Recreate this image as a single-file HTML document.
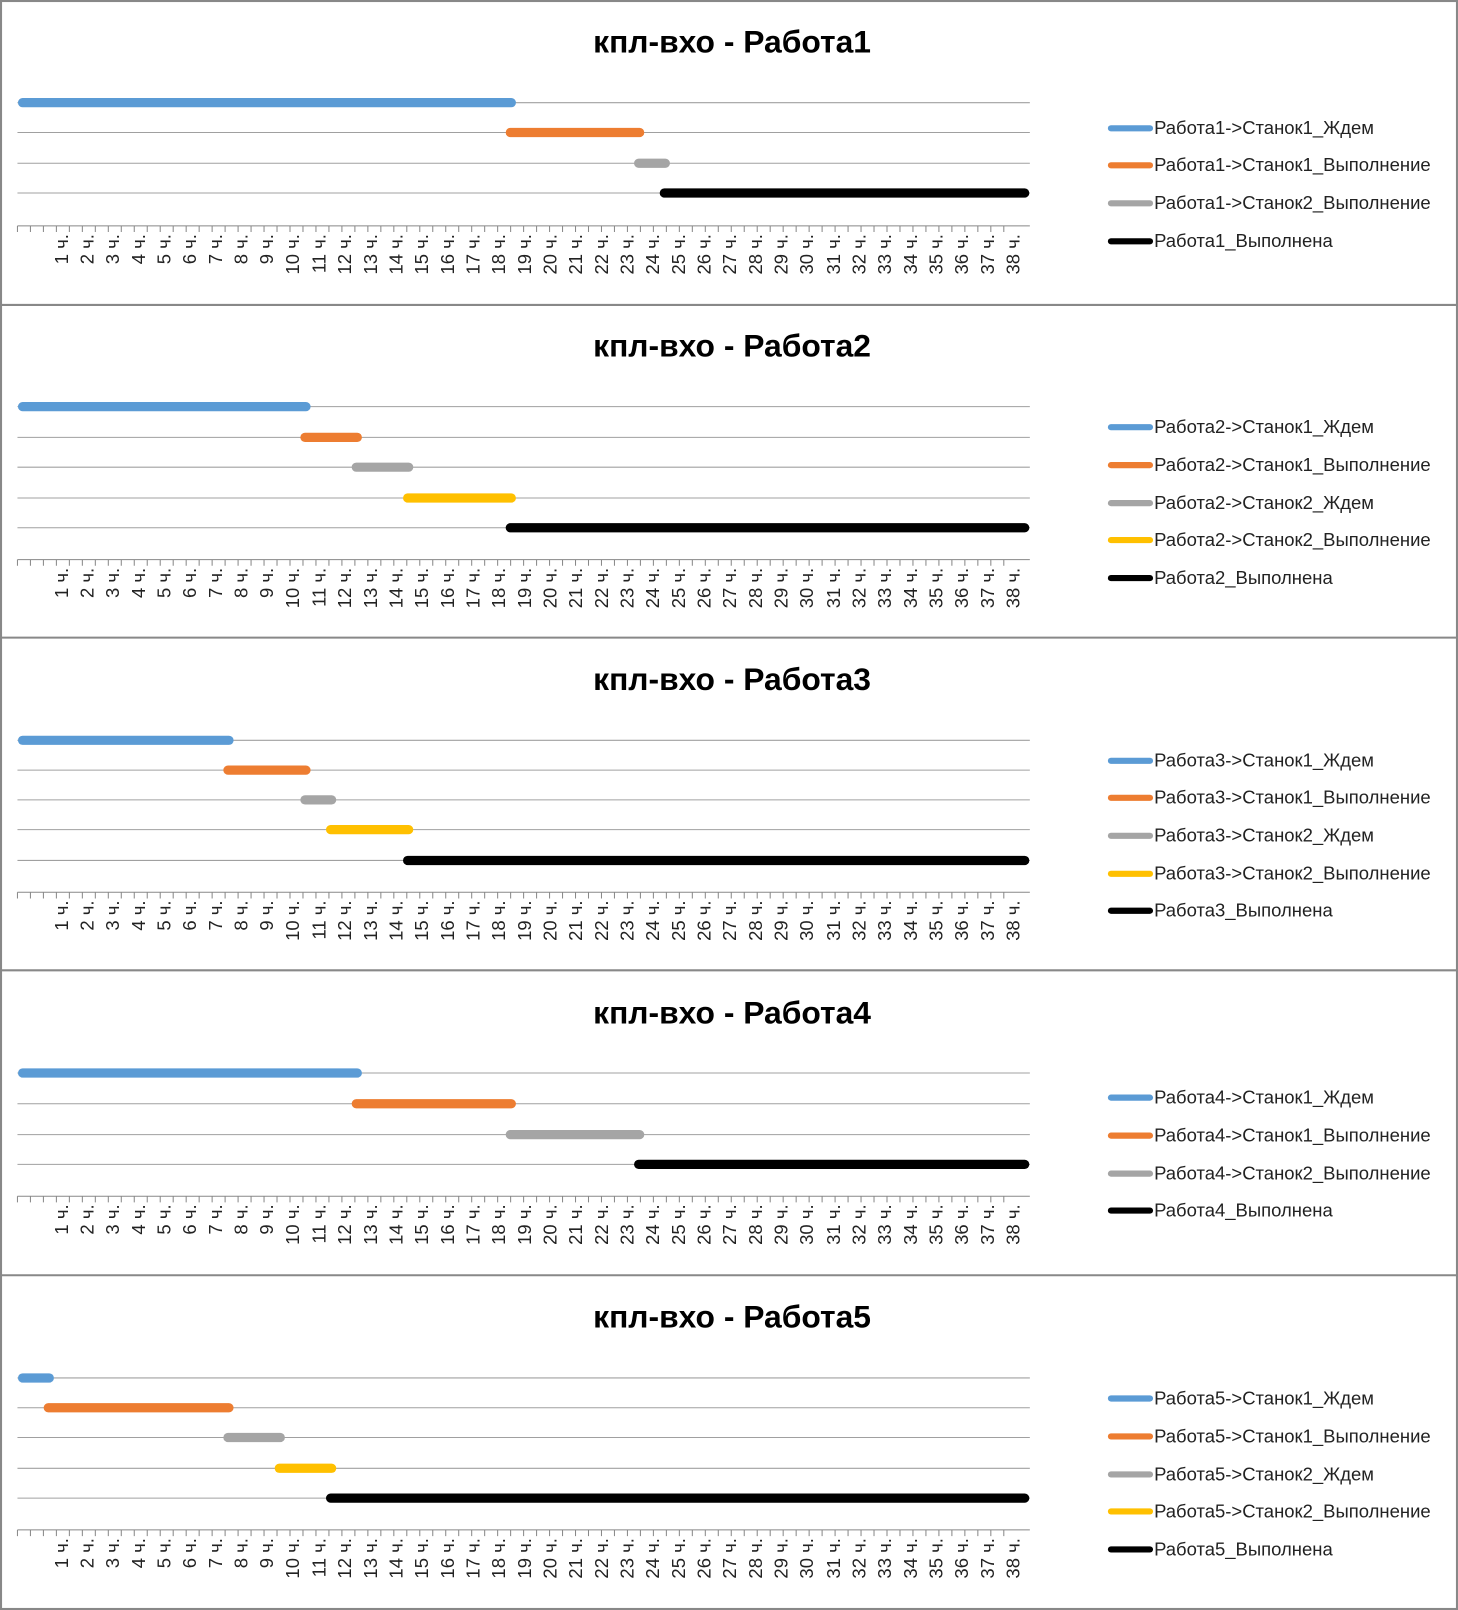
<!DOCTYPE html>
<html><head><meta charset="utf-8"><style>
html,body{margin:0;padding:0;background:#fff}
svg{display:block}
text{font-family:"Liberation Sans","DejaVu Sans",sans-serif}
.t{font-size:31px;font-weight:bold;text-anchor:middle;fill:#000}
.l{font-size:18px;fill:#222;dominant-baseline:middle}
.a{font-size:18px;fill:#222;text-anchor:end}
.g{stroke:#a0a0a0;stroke-width:1}
.b{stroke-width:9;stroke-linecap:round}
</style></head><body>
<svg width="1458" height="1610" viewBox="0 0 1420 1568" preserveAspectRatio="none" xmlns="http://www.w3.org/2000/svg">
<defs>
<path id="tk" d="M17 0H1003M17 0v6m12.64 -6v6m12.64 -6v6m12.64 -6v6m12.64 -6v6m12.64 -6v6m12.64 -6v6m12.64 -6v6m12.64 -6v6m12.64 -6v6m12.64 -6v6m12.64 -6v6m12.64 -6v6m12.64 -6v6m12.64 -6v6m12.64 -6v6m12.64 -6v6m12.64 -6v6m12.64 -6v6m12.64 -6v6m12.64 -6v6m12.64 -6v6m12.64 -6v6m12.64 -6v6m12.64 -6v6m12.64 -6v6m12.64 -6v6m12.64 -6v6m12.64 -6v6m12.64 -6v6m12.64 -6v6m12.64 -6v6m12.64 -6v6m12.64 -6v6m12.64 -6v6m12.64 -6v6m12.64 -6v6m12.64 -6v6m12.64 -6v6m12.64 -6v6m12.64 -6v6m12.64 -6v6m12.64 -6v6m12.64 -6v6m12.64 -6v6m12.64 -6v6m12.64 -6v6m12.64 -6v6m12.64 -6v6m12.64 -6v6m12.64 -6v6m12.64 -6v6m12.64 -6v6m12.64 -6v6m12.64 -6v6m12.64 -6v6m12.64 -6v6m12.64 -6v6m12.64 -6v6m12.64 -6v6m12.64 -6v6m12.64 -6v6m12.64 -6v6m12.64 -6v6m12.64 -6v6m12.64 -6v6m12.64 -6v6m12.64 -6v6m12.64 -6v6m12.64 -6v6m12.64 -6v6m12.64 -6v6m12.64 -6v6m12.64 -6v6m12.64 -6v6m12.64 -6v6m12.64 -6v6" stroke="#888" stroke-width="1" fill="none"/>
</defs>
<rect x="1" y="1" width="1418" height="1566" fill="#fff" stroke="#888" stroke-width="2"/>
<g stroke="#888" stroke-width="2"><line x1="0" y1="297" x2="1420" y2="297"/><line x1="0" y1="621" x2="1420" y2="621"/><line x1="0" y1="945" x2="1420" y2="945"/><line x1="0" y1="1242" x2="1420" y2="1242"/></g>

<!-- Panel 1 -->
<text class="t" x="713" y="51">кпл-вхо - Работа1</text>
<g class="g"><line x1="17" y1="100" x2="1003" y2="100"/><line x1="17" y1="129" x2="1003" y2="129"/><line x1="17" y1="159" x2="1003" y2="159"/><line x1="17" y1="188" x2="1003" y2="188"/></g>
<line class="b" stroke="#5b9bd5" x1="22" y1="100" x2="498" y2="100"/>
<line class="b" stroke="#ed7d31" x1="497" y1="129" x2="623" y2="129"/>
<line class="b" stroke="#a5a5a5" x1="622" y1="159" x2="648" y2="159"/>
<line class="b" stroke="#000" x1="647" y1="188" x2="998" y2="188"/>
<g transform="translate(0,220)"><use href="#tk"/>
<g transform="translate(0,8)">
<text class="a" transform="translate(66,0) rotate(-90)">1 ч.</text><text class="a" transform="translate(91,0) rotate(-90)">2 ч.</text><text class="a" transform="translate(116,0) rotate(-90)">3 ч.</text><text class="a" transform="translate(141,0) rotate(-90)">4 ч.</text><text class="a" transform="translate(166,0) rotate(-90)">5 ч.</text><text class="a" transform="translate(191,0) rotate(-90)">6 ч.</text><text class="a" transform="translate(216,0) rotate(-90)">7 ч.</text><text class="a" transform="translate(241,0) rotate(-90)">8 ч.</text><text class="a" transform="translate(266,0) rotate(-90)">9 ч.</text><text class="a" transform="translate(291,0) rotate(-90)">10 ч.</text><text class="a" transform="translate(317,0) rotate(-90)">11 ч.</text><text class="a" transform="translate(342,0) rotate(-90)">12 ч.</text><text class="a" transform="translate(367,0) rotate(-90)">13 ч.</text><text class="a" transform="translate(392,0) rotate(-90)">14 ч.</text><text class="a" transform="translate(417,0) rotate(-90)">15 ч.</text><text class="a" transform="translate(442,0) rotate(-90)">16 ч.</text><text class="a" transform="translate(467,0) rotate(-90)">17 ч.</text><text class="a" transform="translate(492,0) rotate(-90)">18 ч.</text><text class="a" transform="translate(517,0) rotate(-90)">19 ч.</text><text class="a" transform="translate(542,0) rotate(-90)">20 ч.</text><text class="a" transform="translate(567,0) rotate(-90)">21 ч.</text><text class="a" transform="translate(592,0) rotate(-90)">22 ч.</text><text class="a" transform="translate(617,0) rotate(-90)">23 ч.</text><text class="a" transform="translate(642,0) rotate(-90)">24 ч.</text><text class="a" transform="translate(667,0) rotate(-90)">25 ч.</text><text class="a" transform="translate(692,0) rotate(-90)">26 ч.</text><text class="a" transform="translate(717,0) rotate(-90)">27 ч.</text><text class="a" transform="translate(742,0) rotate(-90)">28 ч.</text><text class="a" transform="translate(767,0) rotate(-90)">29 ч.</text><text class="a" transform="translate(792,0) rotate(-90)">30 ч.</text><text class="a" transform="translate(818,0) rotate(-90)">31 ч.</text><text class="a" transform="translate(843,0) rotate(-90)">32 ч.</text><text class="a" transform="translate(868,0) rotate(-90)">33 ч.</text><text class="a" transform="translate(893,0) rotate(-90)">34 ч.</text><text class="a" transform="translate(918,0) rotate(-90)">35 ч.</text><text class="a" transform="translate(943,0) rotate(-90)">36 ч.</text><text class="a" transform="translate(968,0) rotate(-90)">37 ч.</text><text class="a" transform="translate(993,0) rotate(-90)">38 ч.</text>
</g></g>
<g class="b"><line stroke="#5b9bd5" x1="1082" y1="125" x2="1120" y2="125" stroke-width="6"/><line stroke="#ed7d31" x1="1082" y1="161" x2="1120" y2="161" stroke-width="6"/><line stroke="#a5a5a5" x1="1082" y1="198" x2="1120" y2="198" stroke-width="6"/><line stroke="#000" x1="1082" y1="235" x2="1120" y2="235" stroke-width="6"/></g>
<text class="l" x="1124" y="126">Работа1-&gt;Станок1_Ждем</text><text class="l" x="1124" y="162">Работа1-&gt;Станок1_Выполнение</text><text class="l" x="1124" y="199">Работа1-&gt;Станок2_Выполнение</text><text class="l" x="1124" y="236">Работа1_Выполнена</text>

<!-- Panel 2 -->
<text class="t" x="713" y="347">кпл-вхо - Работа2</text>
<g class="g"><line x1="17" y1="396" x2="1003" y2="396"/><line x1="17" y1="426" x2="1003" y2="426"/><line x1="17" y1="455" x2="1003" y2="455"/><line x1="17" y1="485" x2="1003" y2="485"/><line x1="17" y1="514" x2="1003" y2="514"/></g>
<line class="b" stroke="#5b9bd5" x1="22" y1="396" x2="298" y2="396"/>
<line class="b" stroke="#ed7d31" x1="297" y1="426" x2="348" y2="426"/>
<line class="b" stroke="#a5a5a5" x1="347" y1="455" x2="398" y2="455"/>
<line class="b" stroke="#ffc000" x1="397" y1="485" x2="498" y2="485"/>
<line class="b" stroke="#000" x1="497" y1="514" x2="998" y2="514"/>
<g transform="translate(0,545)"><use href="#tk"/>
<g transform="translate(0,8)">
<text class="a" transform="translate(66,0) rotate(-90)">1 ч.</text><text class="a" transform="translate(91,0) rotate(-90)">2 ч.</text><text class="a" transform="translate(116,0) rotate(-90)">3 ч.</text><text class="a" transform="translate(141,0) rotate(-90)">4 ч.</text><text class="a" transform="translate(166,0) rotate(-90)">5 ч.</text><text class="a" transform="translate(191,0) rotate(-90)">6 ч.</text><text class="a" transform="translate(216,0) rotate(-90)">7 ч.</text><text class="a" transform="translate(241,0) rotate(-90)">8 ч.</text><text class="a" transform="translate(266,0) rotate(-90)">9 ч.</text><text class="a" transform="translate(291,0) rotate(-90)">10 ч.</text><text class="a" transform="translate(317,0) rotate(-90)">11 ч.</text><text class="a" transform="translate(342,0) rotate(-90)">12 ч.</text><text class="a" transform="translate(367,0) rotate(-90)">13 ч.</text><text class="a" transform="translate(392,0) rotate(-90)">14 ч.</text><text class="a" transform="translate(417,0) rotate(-90)">15 ч.</text><text class="a" transform="translate(442,0) rotate(-90)">16 ч.</text><text class="a" transform="translate(467,0) rotate(-90)">17 ч.</text><text class="a" transform="translate(492,0) rotate(-90)">18 ч.</text><text class="a" transform="translate(517,0) rotate(-90)">19 ч.</text><text class="a" transform="translate(542,0) rotate(-90)">20 ч.</text><text class="a" transform="translate(567,0) rotate(-90)">21 ч.</text><text class="a" transform="translate(592,0) rotate(-90)">22 ч.</text><text class="a" transform="translate(617,0) rotate(-90)">23 ч.</text><text class="a" transform="translate(642,0) rotate(-90)">24 ч.</text><text class="a" transform="translate(667,0) rotate(-90)">25 ч.</text><text class="a" transform="translate(692,0) rotate(-90)">26 ч.</text><text class="a" transform="translate(717,0) rotate(-90)">27 ч.</text><text class="a" transform="translate(742,0) rotate(-90)">28 ч.</text><text class="a" transform="translate(767,0) rotate(-90)">29 ч.</text><text class="a" transform="translate(792,0) rotate(-90)">30 ч.</text><text class="a" transform="translate(818,0) rotate(-90)">31 ч.</text><text class="a" transform="translate(843,0) rotate(-90)">32 ч.</text><text class="a" transform="translate(868,0) rotate(-90)">33 ч.</text><text class="a" transform="translate(893,0) rotate(-90)">34 ч.</text><text class="a" transform="translate(918,0) rotate(-90)">35 ч.</text><text class="a" transform="translate(943,0) rotate(-90)">36 ч.</text><text class="a" transform="translate(968,0) rotate(-90)">37 ч.</text><text class="a" transform="translate(993,0) rotate(-90)">38 ч.</text>
</g></g>
<g class="b"><line stroke="#5b9bd5" x1="1082" y1="416" x2="1120" y2="416" stroke-width="6"/><line stroke="#ed7d31" x1="1082" y1="453" x2="1120" y2="453" stroke-width="6"/><line stroke="#a5a5a5" x1="1082" y1="490" x2="1120" y2="490" stroke-width="6"/><line stroke="#ffc000" x1="1082" y1="526" x2="1120" y2="526" stroke-width="6"/><line stroke="#000" x1="1082" y1="563" x2="1120" y2="563" stroke-width="6"/></g>
<text class="l" x="1124" y="417">Работа2-&gt;Станок1_Ждем</text><text class="l" x="1124" y="454">Работа2-&gt;Станок1_Выполнение</text><text class="l" x="1124" y="491">Работа2-&gt;Станок2_Ждем</text><text class="l" x="1124" y="527">Работа2-&gt;Станок2_Выполнение</text><text class="l" x="1124" y="564">Работа2_Выполнена</text>

<!-- Panel 3 -->
<text class="t" x="713" y="672">кпл-вхо - Работа3</text>
<g class="g"><line x1="17" y1="721" x2="1003" y2="721"/><line x1="17" y1="750" x2="1003" y2="750"/><line x1="17" y1="779" x2="1003" y2="779"/><line x1="17" y1="808" x2="1003" y2="808"/><line x1="17" y1="838" x2="1003" y2="838"/></g>
<line class="b" stroke="#5b9bd5" x1="22" y1="721" x2="223" y2="721"/>
<line class="b" stroke="#ed7d31" x1="222" y1="750" x2="298" y2="750"/>
<line class="b" stroke="#a5a5a5" x1="297" y1="779" x2="323" y2="779"/>
<line class="b" stroke="#ffc000" x1="322" y1="808" x2="398" y2="808"/>
<line class="b" stroke="#000" x1="397" y1="838" x2="998" y2="838"/>
<g transform="translate(0,869)"><use href="#tk"/>
<g transform="translate(0,8)">
<text class="a" transform="translate(66,0) rotate(-90)">1 ч.</text><text class="a" transform="translate(91,0) rotate(-90)">2 ч.</text><text class="a" transform="translate(116,0) rotate(-90)">3 ч.</text><text class="a" transform="translate(141,0) rotate(-90)">4 ч.</text><text class="a" transform="translate(166,0) rotate(-90)">5 ч.</text><text class="a" transform="translate(191,0) rotate(-90)">6 ч.</text><text class="a" transform="translate(216,0) rotate(-90)">7 ч.</text><text class="a" transform="translate(241,0) rotate(-90)">8 ч.</text><text class="a" transform="translate(266,0) rotate(-90)">9 ч.</text><text class="a" transform="translate(291,0) rotate(-90)">10 ч.</text><text class="a" transform="translate(317,0) rotate(-90)">11 ч.</text><text class="a" transform="translate(342,0) rotate(-90)">12 ч.</text><text class="a" transform="translate(367,0) rotate(-90)">13 ч.</text><text class="a" transform="translate(392,0) rotate(-90)">14 ч.</text><text class="a" transform="translate(417,0) rotate(-90)">15 ч.</text><text class="a" transform="translate(442,0) rotate(-90)">16 ч.</text><text class="a" transform="translate(467,0) rotate(-90)">17 ч.</text><text class="a" transform="translate(492,0) rotate(-90)">18 ч.</text><text class="a" transform="translate(517,0) rotate(-90)">19 ч.</text><text class="a" transform="translate(542,0) rotate(-90)">20 ч.</text><text class="a" transform="translate(567,0) rotate(-90)">21 ч.</text><text class="a" transform="translate(592,0) rotate(-90)">22 ч.</text><text class="a" transform="translate(617,0) rotate(-90)">23 ч.</text><text class="a" transform="translate(642,0) rotate(-90)">24 ч.</text><text class="a" transform="translate(667,0) rotate(-90)">25 ч.</text><text class="a" transform="translate(692,0) rotate(-90)">26 ч.</text><text class="a" transform="translate(717,0) rotate(-90)">27 ч.</text><text class="a" transform="translate(742,0) rotate(-90)">28 ч.</text><text class="a" transform="translate(767,0) rotate(-90)">29 ч.</text><text class="a" transform="translate(792,0) rotate(-90)">30 ч.</text><text class="a" transform="translate(818,0) rotate(-90)">31 ч.</text><text class="a" transform="translate(843,0) rotate(-90)">32 ч.</text><text class="a" transform="translate(868,0) rotate(-90)">33 ч.</text><text class="a" transform="translate(893,0) rotate(-90)">34 ч.</text><text class="a" transform="translate(918,0) rotate(-90)">35 ч.</text><text class="a" transform="translate(943,0) rotate(-90)">36 ч.</text><text class="a" transform="translate(968,0) rotate(-90)">37 ч.</text><text class="a" transform="translate(993,0) rotate(-90)">38 ч.</text>
</g></g>
<g class="b"><line stroke="#5b9bd5" x1="1082" y1="741" x2="1120" y2="741" stroke-width="6"/><line stroke="#ed7d31" x1="1082" y1="777" x2="1120" y2="777" stroke-width="6"/><line stroke="#a5a5a5" x1="1082" y1="814" x2="1120" y2="814" stroke-width="6"/><line stroke="#ffc000" x1="1082" y1="851" x2="1120" y2="851" stroke-width="6"/><line stroke="#000" x1="1082" y1="887" x2="1120" y2="887" stroke-width="6"/></g>
<text class="l" x="1124" y="742">Работа3-&gt;Станок1_Ждем</text><text class="l" x="1124" y="778">Работа3-&gt;Станок1_Выполнение</text><text class="l" x="1124" y="815">Работа3-&gt;Станок2_Ждем</text><text class="l" x="1124" y="852">Работа3-&gt;Станок2_Выполнение</text><text class="l" x="1124" y="888">Работа3_Выполнена</text>

<!-- Panel 4 -->
<text class="t" x="713" y="997">кпл-вхо - Работа4</text>
<g class="g"><line x1="17" y1="1045" x2="1003" y2="1045"/><line x1="17" y1="1075" x2="1003" y2="1075"/><line x1="17" y1="1105" x2="1003" y2="1105"/><line x1="17" y1="1134" x2="1003" y2="1134"/></g>
<line class="b" stroke="#5b9bd5" x1="22" y1="1045" x2="348" y2="1045"/>
<line class="b" stroke="#ed7d31" x1="347" y1="1075" x2="498" y2="1075"/>
<line class="b" stroke="#a5a5a5" x1="497" y1="1105" x2="623" y2="1105"/>
<line class="b" stroke="#000" x1="622" y1="1134" x2="998" y2="1134"/>
<g transform="translate(0,1165)"><use href="#tk"/>
<g transform="translate(0,8)">
<text class="a" transform="translate(66,0) rotate(-90)">1 ч.</text><text class="a" transform="translate(91,0) rotate(-90)">2 ч.</text><text class="a" transform="translate(116,0) rotate(-90)">3 ч.</text><text class="a" transform="translate(141,0) rotate(-90)">4 ч.</text><text class="a" transform="translate(166,0) rotate(-90)">5 ч.</text><text class="a" transform="translate(191,0) rotate(-90)">6 ч.</text><text class="a" transform="translate(216,0) rotate(-90)">7 ч.</text><text class="a" transform="translate(241,0) rotate(-90)">8 ч.</text><text class="a" transform="translate(266,0) rotate(-90)">9 ч.</text><text class="a" transform="translate(291,0) rotate(-90)">10 ч.</text><text class="a" transform="translate(317,0) rotate(-90)">11 ч.</text><text class="a" transform="translate(342,0) rotate(-90)">12 ч.</text><text class="a" transform="translate(367,0) rotate(-90)">13 ч.</text><text class="a" transform="translate(392,0) rotate(-90)">14 ч.</text><text class="a" transform="translate(417,0) rotate(-90)">15 ч.</text><text class="a" transform="translate(442,0) rotate(-90)">16 ч.</text><text class="a" transform="translate(467,0) rotate(-90)">17 ч.</text><text class="a" transform="translate(492,0) rotate(-90)">18 ч.</text><text class="a" transform="translate(517,0) rotate(-90)">19 ч.</text><text class="a" transform="translate(542,0) rotate(-90)">20 ч.</text><text class="a" transform="translate(567,0) rotate(-90)">21 ч.</text><text class="a" transform="translate(592,0) rotate(-90)">22 ч.</text><text class="a" transform="translate(617,0) rotate(-90)">23 ч.</text><text class="a" transform="translate(642,0) rotate(-90)">24 ч.</text><text class="a" transform="translate(667,0) rotate(-90)">25 ч.</text><text class="a" transform="translate(692,0) rotate(-90)">26 ч.</text><text class="a" transform="translate(717,0) rotate(-90)">27 ч.</text><text class="a" transform="translate(742,0) rotate(-90)">28 ч.</text><text class="a" transform="translate(767,0) rotate(-90)">29 ч.</text><text class="a" transform="translate(792,0) rotate(-90)">30 ч.</text><text class="a" transform="translate(818,0) rotate(-90)">31 ч.</text><text class="a" transform="translate(843,0) rotate(-90)">32 ч.</text><text class="a" transform="translate(868,0) rotate(-90)">33 ч.</text><text class="a" transform="translate(893,0) rotate(-90)">34 ч.</text><text class="a" transform="translate(918,0) rotate(-90)">35 ч.</text><text class="a" transform="translate(943,0) rotate(-90)">36 ч.</text><text class="a" transform="translate(968,0) rotate(-90)">37 ч.</text><text class="a" transform="translate(993,0) rotate(-90)">38 ч.</text>
</g></g>
<g class="b"><line stroke="#5b9bd5" x1="1082" y1="1069" x2="1120" y2="1069" stroke-width="6"/><line stroke="#ed7d31" x1="1082" y1="1106" x2="1120" y2="1106" stroke-width="6"/><line stroke="#a5a5a5" x1="1082" y1="1143" x2="1120" y2="1143" stroke-width="6"/><line stroke="#000" x1="1082" y1="1179" x2="1120" y2="1179" stroke-width="6"/></g>
<text class="l" x="1124" y="1070">Работа4-&gt;Станок1_Ждем</text><text class="l" x="1124" y="1107">Работа4-&gt;Станок1_Выполнение</text><text class="l" x="1124" y="1144">Работа4-&gt;Станок2_Выполнение</text><text class="l" x="1124" y="1180">Работа4_Выполнена</text>

<!-- Panel 5 -->
<text class="t" x="713" y="1293">кпл-вхо - Работа5</text>
<g class="g"><line x1="17" y1="1342" x2="1003" y2="1342"/><line x1="17" y1="1371" x2="1003" y2="1371"/><line x1="17" y1="1400" x2="1003" y2="1400"/><line x1="17" y1="1430" x2="1003" y2="1430"/><line x1="17" y1="1459" x2="1003" y2="1459"/></g>
<line class="b" stroke="#5b9bd5" x1="22" y1="1342" x2="48" y2="1342"/>
<line class="b" stroke="#ed7d31" x1="47" y1="1371" x2="223" y2="1371"/>
<line class="b" stroke="#a5a5a5" x1="222" y1="1400" x2="273" y2="1400"/>
<line class="b" stroke="#ffc000" x1="272" y1="1430" x2="323" y2="1430"/>
<line class="b" stroke="#000" x1="322" y1="1459" x2="998" y2="1459"/>
<g transform="translate(0,1490)"><use href="#tk"/>
<g transform="translate(0,8)">
<text class="a" transform="translate(66,0) rotate(-90)">1 ч.</text><text class="a" transform="translate(91,0) rotate(-90)">2 ч.</text><text class="a" transform="translate(116,0) rotate(-90)">3 ч.</text><text class="a" transform="translate(141,0) rotate(-90)">4 ч.</text><text class="a" transform="translate(166,0) rotate(-90)">5 ч.</text><text class="a" transform="translate(191,0) rotate(-90)">6 ч.</text><text class="a" transform="translate(216,0) rotate(-90)">7 ч.</text><text class="a" transform="translate(241,0) rotate(-90)">8 ч.</text><text class="a" transform="translate(266,0) rotate(-90)">9 ч.</text><text class="a" transform="translate(291,0) rotate(-90)">10 ч.</text><text class="a" transform="translate(317,0) rotate(-90)">11 ч.</text><text class="a" transform="translate(342,0) rotate(-90)">12 ч.</text><text class="a" transform="translate(367,0) rotate(-90)">13 ч.</text><text class="a" transform="translate(392,0) rotate(-90)">14 ч.</text><text class="a" transform="translate(417,0) rotate(-90)">15 ч.</text><text class="a" transform="translate(442,0) rotate(-90)">16 ч.</text><text class="a" transform="translate(467,0) rotate(-90)">17 ч.</text><text class="a" transform="translate(492,0) rotate(-90)">18 ч.</text><text class="a" transform="translate(517,0) rotate(-90)">19 ч.</text><text class="a" transform="translate(542,0) rotate(-90)">20 ч.</text><text class="a" transform="translate(567,0) rotate(-90)">21 ч.</text><text class="a" transform="translate(592,0) rotate(-90)">22 ч.</text><text class="a" transform="translate(617,0) rotate(-90)">23 ч.</text><text class="a" transform="translate(642,0) rotate(-90)">24 ч.</text><text class="a" transform="translate(667,0) rotate(-90)">25 ч.</text><text class="a" transform="translate(692,0) rotate(-90)">26 ч.</text><text class="a" transform="translate(717,0) rotate(-90)">27 ч.</text><text class="a" transform="translate(742,0) rotate(-90)">28 ч.</text><text class="a" transform="translate(767,0) rotate(-90)">29 ч.</text><text class="a" transform="translate(792,0) rotate(-90)">30 ч.</text><text class="a" transform="translate(818,0) rotate(-90)">31 ч.</text><text class="a" transform="translate(843,0) rotate(-90)">32 ч.</text><text class="a" transform="translate(868,0) rotate(-90)">33 ч.</text><text class="a" transform="translate(893,0) rotate(-90)">34 ч.</text><text class="a" transform="translate(918,0) rotate(-90)">35 ч.</text><text class="a" transform="translate(943,0) rotate(-90)">36 ч.</text><text class="a" transform="translate(968,0) rotate(-90)">37 ч.</text><text class="a" transform="translate(993,0) rotate(-90)">38 ч.</text>
</g></g>
<g class="b"><line stroke="#5b9bd5" x1="1082" y1="1362" x2="1120" y2="1362" stroke-width="6"/><line stroke="#ed7d31" x1="1082" y1="1399" x2="1120" y2="1399" stroke-width="6"/><line stroke="#a5a5a5" x1="1082" y1="1436" x2="1120" y2="1436" stroke-width="6"/><line stroke="#ffc000" x1="1082" y1="1472" x2="1120" y2="1472" stroke-width="6"/><line stroke="#000" x1="1082" y1="1509" x2="1120" y2="1509" stroke-width="6"/></g>
<text class="l" x="1124" y="1363">Работа5-&gt;Станок1_Ждем</text><text class="l" x="1124" y="1400">Работа5-&gt;Станок1_Выполнение</text><text class="l" x="1124" y="1437">Работа5-&gt;Станок2_Ждем</text><text class="l" x="1124" y="1473">Работа5-&gt;Станок2_Выполнение</text><text class="l" x="1124" y="1510">Работа5_Выполнена</text>
</svg>
</body></html>
